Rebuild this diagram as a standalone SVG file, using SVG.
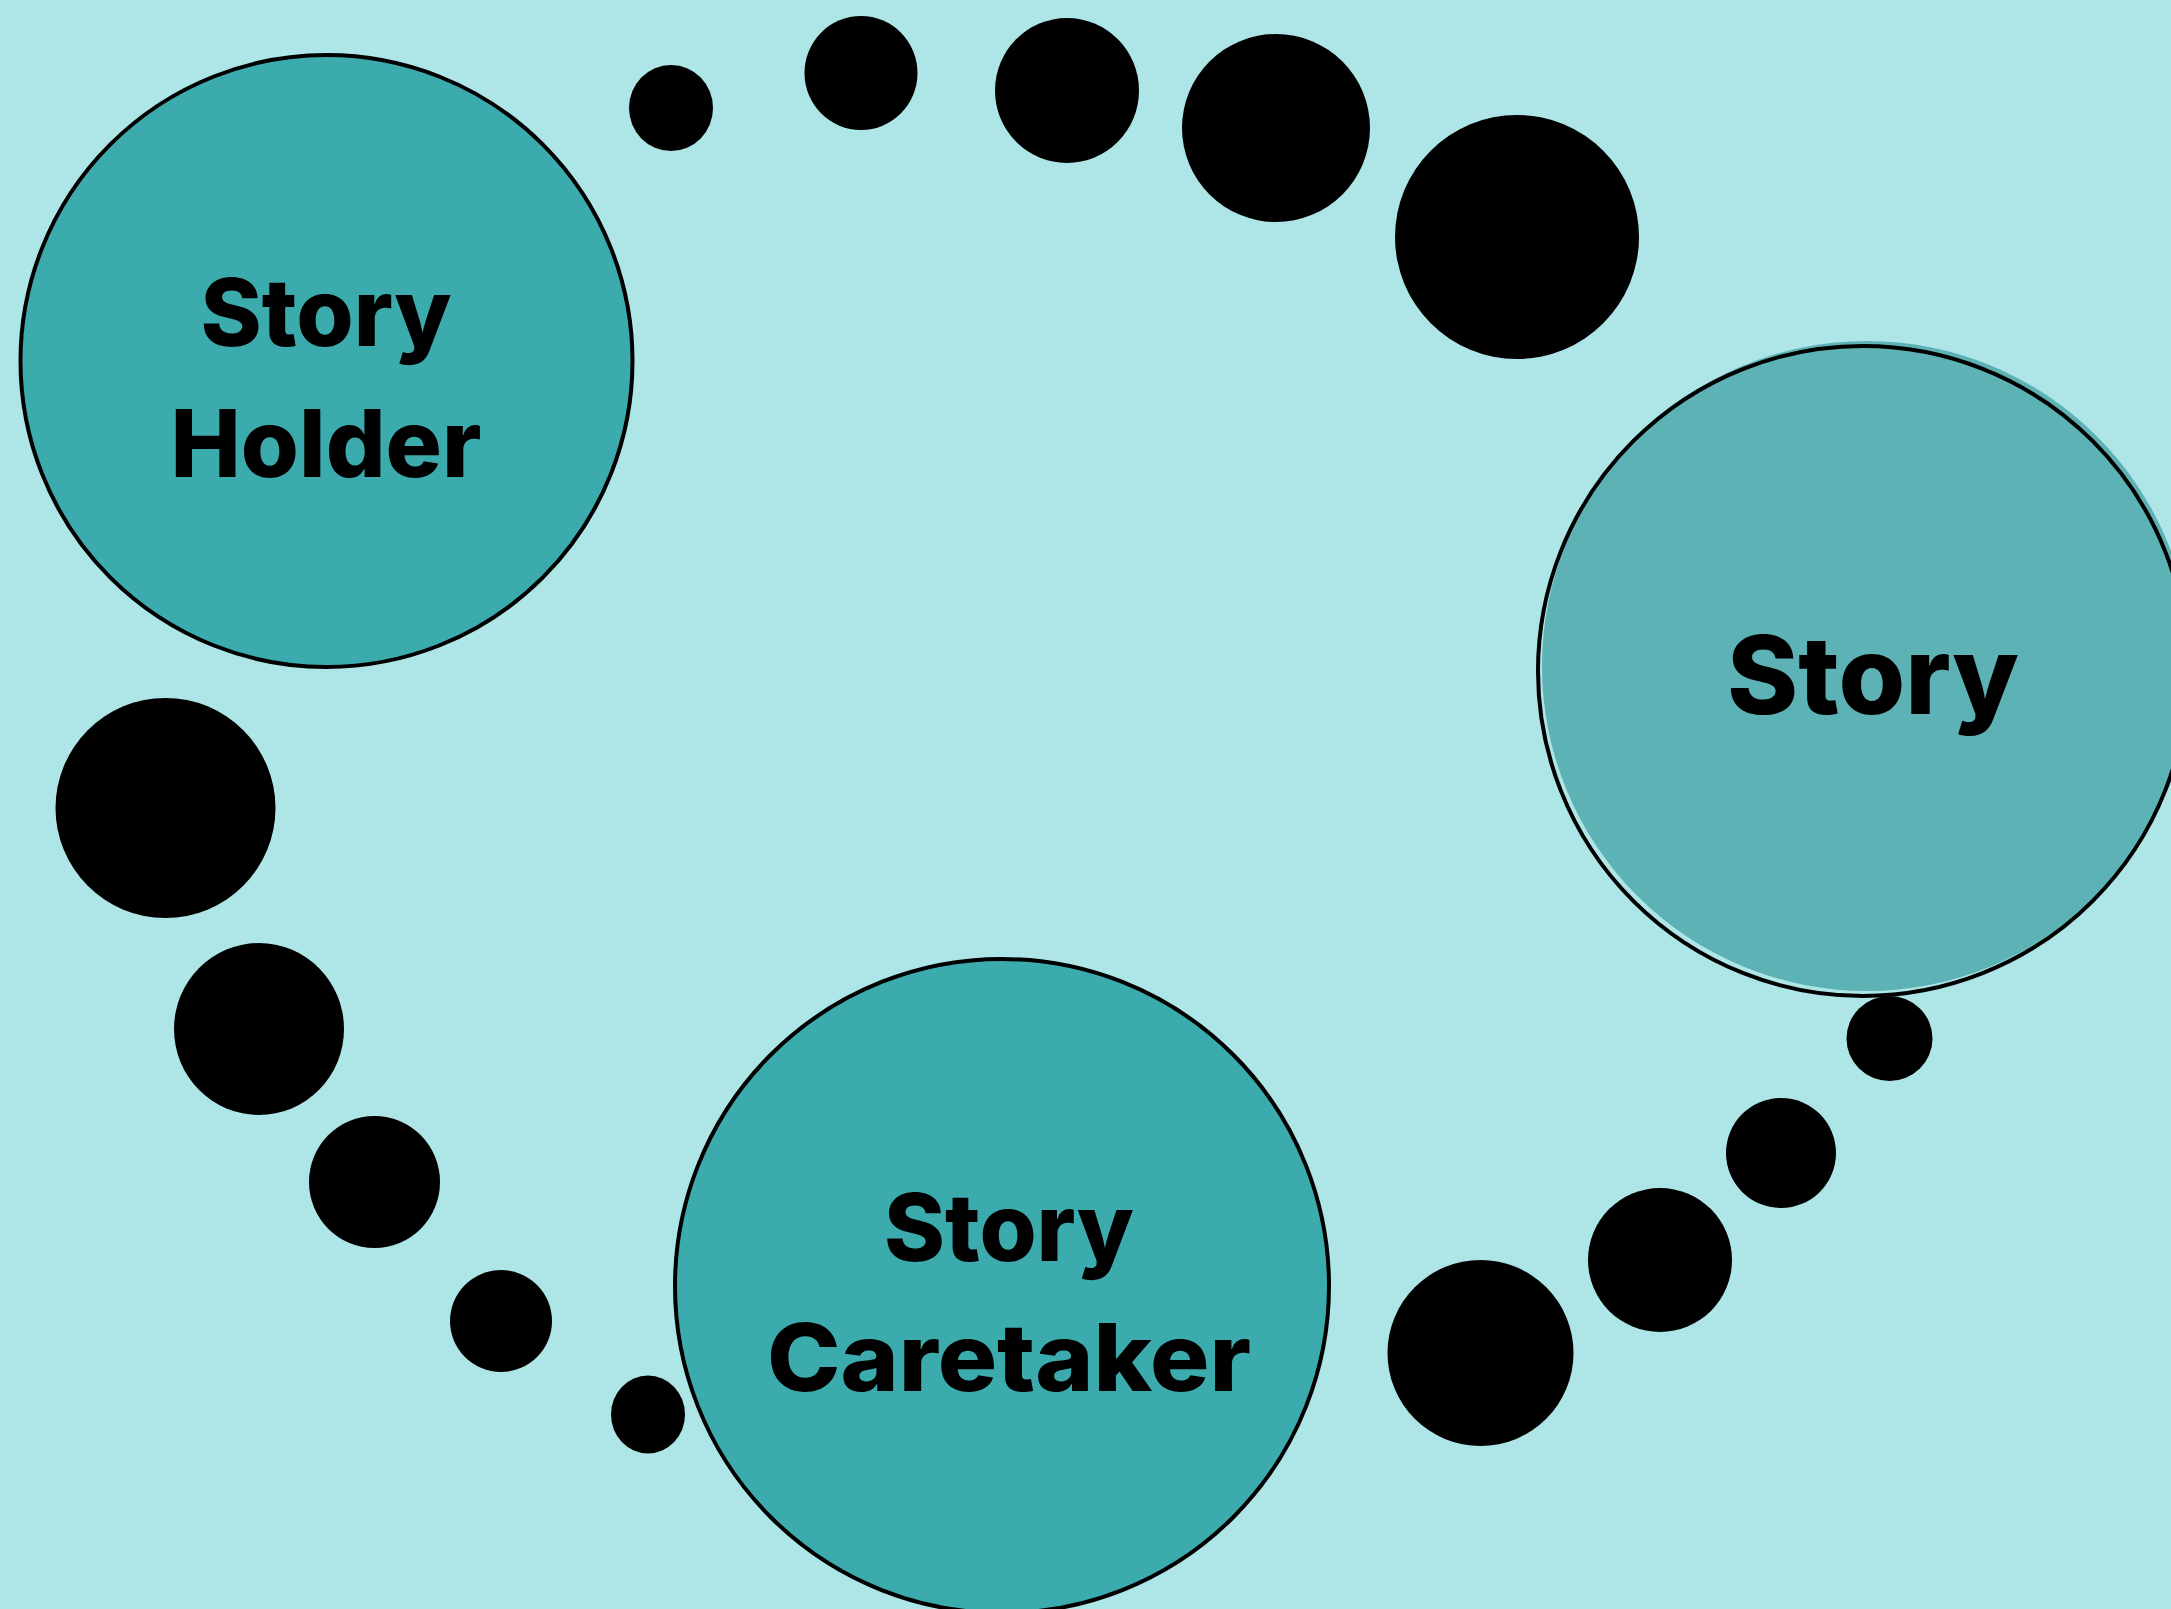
<svg xmlns="http://www.w3.org/2000/svg" width="2171" height="1609" viewBox="0 0 2171 1609">
<style>
.bg{fill:#aee5e6}
.fillA{fill:#3cabae}
.fillB{fill:#5db2b5}
.ring{fill:none;stroke:#000;stroke-width:4}
.dot{fill:#000}
.lbl{font-family:Inter,"Liberation Sans","DejaVu Sans",sans-serif;font-weight:800;fill:#000;text-anchor:middle}
</style>
<rect class="bg" x="0" y="0" width="2171" height="1609"/>
<g id="connectors">
<ellipse class="dot" cx="671" cy="108" rx="42" ry="43"/>
<ellipse class="dot" cx="861" cy="73" rx="56.5" ry="57"/>
<ellipse class="dot" cx="1067" cy="90.5" rx="72" ry="72.5"/>
<ellipse class="dot" cx="1276" cy="128" rx="94" ry="94"/>
<ellipse class="dot" cx="1517" cy="237" rx="122" ry="122"/>
<ellipse class="dot" cx="165.5" cy="808" rx="110" ry="110"/>
<ellipse class="dot" cx="259" cy="1029" rx="85" ry="86"/>
<ellipse class="dot" cx="374.5" cy="1182" rx="65.5" ry="66"/>
<ellipse class="dot" cx="501" cy="1321" rx="51" ry="51"/>
<ellipse class="dot" cx="648" cy="1414.5" rx="37" ry="39"/>
<ellipse class="dot" cx="1889.5" cy="1038.5" rx="43" ry="42.5"/>
<ellipse class="dot" cx="1781" cy="1153" rx="55" ry="55"/>
<ellipse class="dot" cx="1660" cy="1260" rx="72" ry="72"/>
<ellipse class="dot" cx="1480.5" cy="1353" rx="93" ry="93"/>
</g>
<g id="story-holder">
<circle class="fillA" cx="328" cy="362" r="306"/>
<circle class="ring" cx="326.5" cy="361" r="306"/>
<text class="lbl" x="326" y="346" font-size="94" textLength="251" lengthAdjust="spacingAndGlyphs">Story</text>
<text class="lbl" x="326" y="477" font-size="94" textLength="311" lengthAdjust="spacingAndGlyphs">Holder</text>
</g>
<g id="story">
<circle class="fillB" cx="1867" cy="666" r="325"/>
<circle class="ring" cx="1863" cy="671" r="325"/>
<text class="lbl" x="1873" y="714" font-size="108" textLength="292" lengthAdjust="spacingAndGlyphs">Story</text>
</g>
<g id="story-caretaker">
<circle class="fillA" cx="1002" cy="1286" r="327"/>
<circle class="ring" cx="1002" cy="1286" r="327"/>
<text class="lbl" x="1009" y="1261" font-size="94" textLength="250" lengthAdjust="spacingAndGlyphs">Story</text>
<text class="lbl" x="1009" y="1391" font-size="94" textLength="484" lengthAdjust="spacingAndGlyphs">Caretaker</text>
</g>
</svg>
